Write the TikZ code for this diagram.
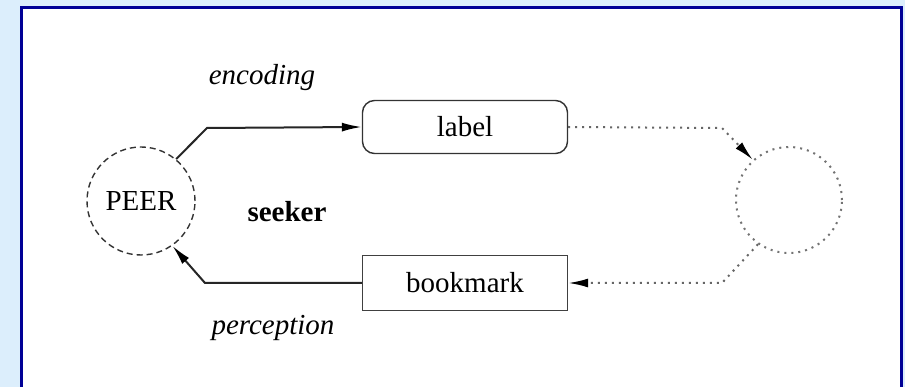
\documentclass[tikz,border=0pt]{standalone}
\usepackage{fontspec}
\setmainfont{Liberation Serif}
\usetikzlibrary{arrows.meta}
\definecolor{bgblue}{RGB}{220,238,252}
\definecolor{frameblue}{RGB}{0,0,150}
\begin{document}
\begin{tikzpicture}[x=1pt,y=-1pt,
  every node/.style={font=\fontsize{29}{34}\selectfont},
  txt/.style={inner sep=0pt},
  peerc/.style={circle,draw=black!80,dash pattern=on 6pt off 4pt,line width=1.4pt,minimum size=108pt,inner sep=0pt},
  othc/.style={circle,draw=black!55,dash pattern=on 2pt off 5pt,line width=2pt,minimum size=106pt,inner sep=0pt},
  lblbox/.style={draw=black!80,rounded corners=12pt,line width=1.4pt,minimum width=205pt,minimum height=53pt,inner sep=0pt},
  bkbox/.style={draw=black!75,line width=1.4pt,minimum width=205pt,minimum height=55pt,inner sep=0pt},
  solidcon/.style={draw=black!85,line width=2pt,-{Latex[length=20pt,width=9pt,black]}},
  dotcon/.style={draw=black!60,line width=2pt,dash pattern=on 2pt off 5pt,-{Latex[length=20pt,width=9pt,black]}}
]
\useasboundingbox (0,0) rectangle (905,387);
\fill[bgblue] (0,0) rectangle (905,387);
\begin{scope}
  \clip (0,0) rectangle (905,387);
  \filldraw[fill=white,draw=frameblue,line width=3pt] (21.5,7.5) rectangle (901,420);
\end{scope}

\node[peerc] (peer) at (141,201) {};
\node[txt] (peertxt) at (141,201) {PEER};
\node[othc] (other) at (789,200) {};
\node[lblbox] (label) at (465,127) {label};
\node[bkbox] (bookmark) at (465,283) {bookmark};
\node[txt,font=\fontsize{29}{34}\selectfont\bfseries] (seeker) at (287,212) {seeker};
\node[txt,font=\fontsize{29}{34}\selectfont\itshape] (encoding) at (262,78) {encoding};
\node[txt,font=\fontsize{29}{34}\selectfont\itshape] (perception) at (273,328) {perception};

\coordinate (b1) at (207,128);
\coordinate (b2) at (205,283);
\coordinate (b3) at (722,128);
\coordinate (b4) at (722,283);

\draw[solidcon] (peer.50) -- (b1) -- (label.west);
\draw[solidcon] (bookmark.west) -- (b2) -- (peer.-55);
\draw[dotcon] (label.east) -- (b3) -- (other.132);
\draw[dotcon] (other.-125) -- (b4) -- (bookmark.east);
\end{tikzpicture}
\end{document}
